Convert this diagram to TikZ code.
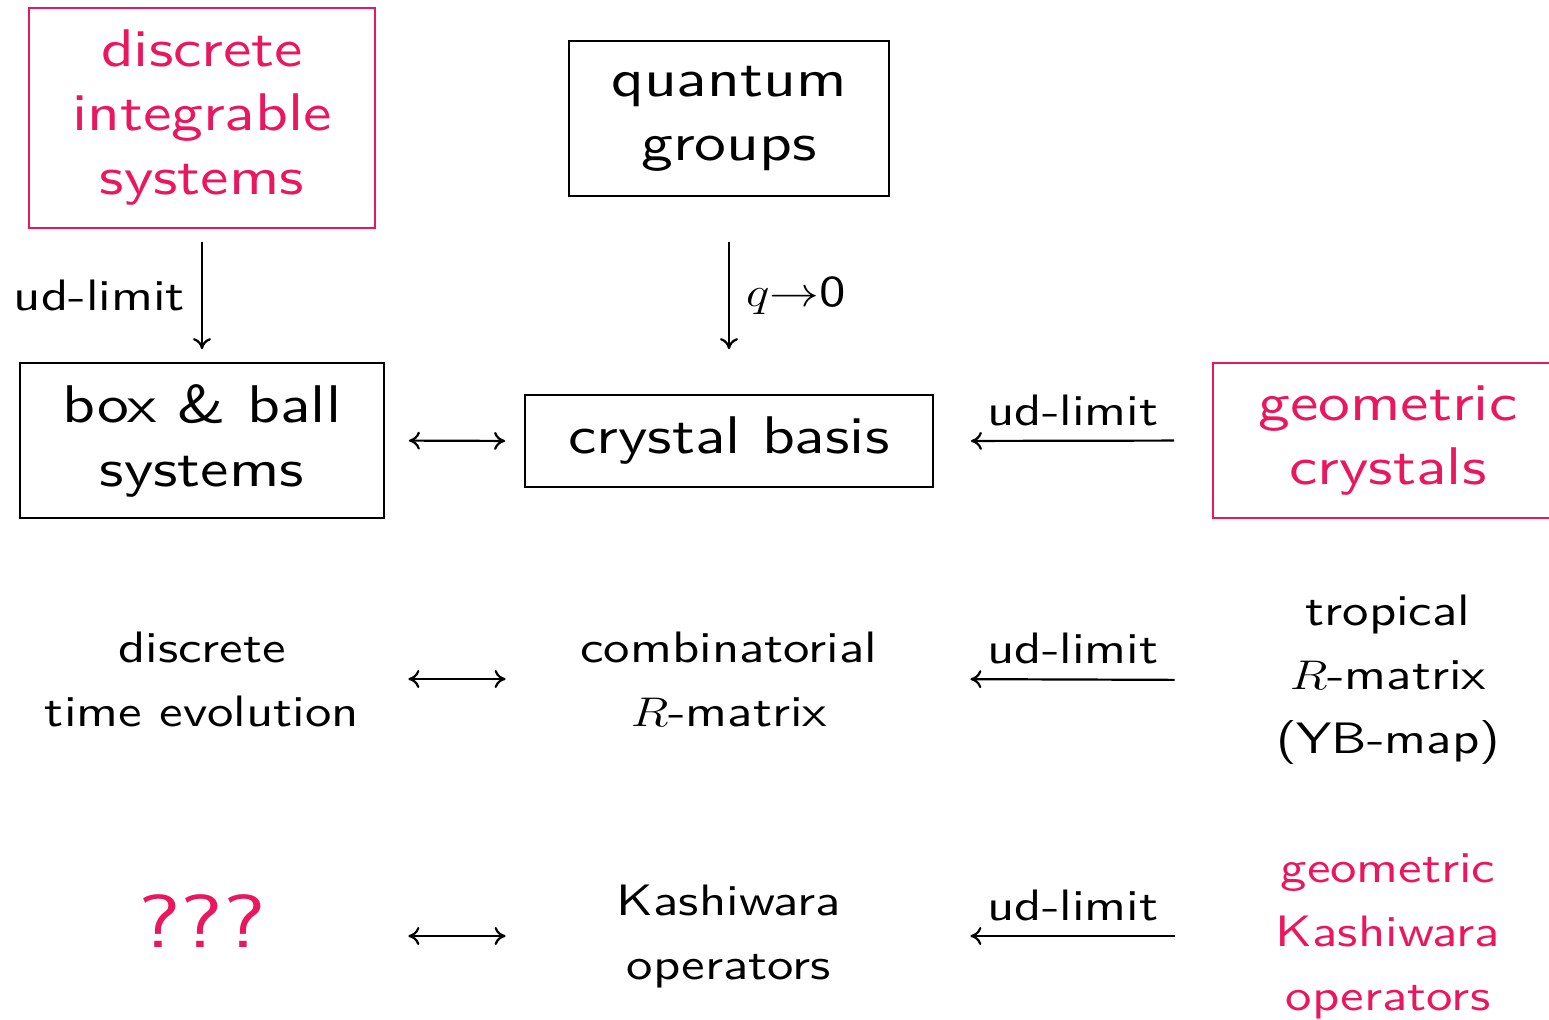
\documentclass[tikz,border=0pt]{standalone}
\usepackage{fontspec}
\usepackage{graphicx}
\setmainfont{lmsans10-regular.otf}[FakeStretch=1.2]
\usetikzlibrary{arrows.meta}
\definecolor{accent}{RGB}{234,22,94}
% math set with the same horizontal stretch as the text font
\newcommand\widemath[1]{\scalebox{1.2}[1]{$#1$}}
\begin{document}
\begin{tikzpicture}[x=0.5pt,y=-0.5pt,
  big/.style={font=\fontsize{26.5}{32}\selectfont, align=center, inner sep=0pt},
  mid/.style={font=\fontsize{22}{32}\selectfont, align=center, inner sep=0pt},
  frame/.style={draw, line width=0.9pt},
  hot/.style={draw=accent, text=accent, line width=0.8pt},
  tipx/.tip={To[length=5.5pt,width=9pt]},
  conn/.style={line width=1.1pt, -tipx},
  dbl/.style={line width=1.1pt, tipx-tipx},
]
\path[use as bounding box] (0,0) rectangle (1549,1019);
\clip (0,0) rectangle (1549,1019);

% framed topics
\node[big, frame, hot, minimum width=173pt, minimum height=110pt] (dis) at (202,118) {discrete\\integrable\\systems};
\node[big, frame, minimum width=160pt, minimum height=77.5pt] (qg) at (729,118.5) {quantum\\groups};
\node[big, frame, minimum width=182pt, minimum height=77.5pt] (bb) at (202,440.5) {box \& ball\\systems};
\node[big, frame, minimum width=204pt, minimum height=46pt] (cb) at (729,441) {crystal basis};
\node[big, frame, hot, minimum width=175pt, minimum height=77.5pt] (gc) at (1388,440.5) {geometric\\crystals};

% third row
\node[mid, minimum width=182pt] (te) at (202,679) {discrete\\time evolution};
\node[mid, minimum width=204pt] (cr) at (729,679) {combinatorial\\\widemath{R}-matrix};
\node[mid, minimum width=175pt] (tr) at (1388,680) {tropical\\\widemath{R}-matrix\\(YB-map)};

% fourth row
\node[font=\fontsize{37.5}{40}\selectfont, text=accent, inner sep=0pt, minimum width=182pt] (qq) at (202,921) {???};
\node[mid, minimum width=204pt] (ka) at (729,936) {Kashiwara\\operators};
\node[mid, text=accent, minimum width=175pt] (gk) at (1388,936) {geometric\\Kashiwara\\operators};

% vertical limits
\draw[conn, shorten <=6.5pt, shorten >=6.5pt] (dis) -- (bb)
  node[midway, left=8pt, mid] {ud-limit};
\draw[conn, shorten <=22.5pt, shorten >=22.5pt] (qg) -- (cb)
  node[midway, right=8pt, mid] {\widemath{q{\to}}0};

% correspondences
\draw[dbl, shorten <=12pt, shorten >=9.5pt] (bb.east) -- (cb.west);
\draw[dbl, shorten <=12pt, shorten >=9.5pt] (te.east) -- (cr.west);
\draw[dbl, shorten <=12pt, shorten >=9.5pt] (qq.east |- ka.west) -- (ka.west);

% ultra-discrete limits
\draw[conn, shorten <=19pt, shorten >=18.5pt] (gc.west) -- (cb.east)
  node[midway, above=7pt, mid] {ud-limit};
\draw[conn, shorten <=19pt, shorten >=18.5pt] (tr.west) -- (cr.east)
  node[midway, above=7pt, mid] {ud-limit};
\draw[conn, shorten <=19pt, shorten >=18.5pt] (gk.west) -- (ka.east)
  node[midway, above=7pt, mid] {ud-limit};
\end{tikzpicture}
\end{document}
